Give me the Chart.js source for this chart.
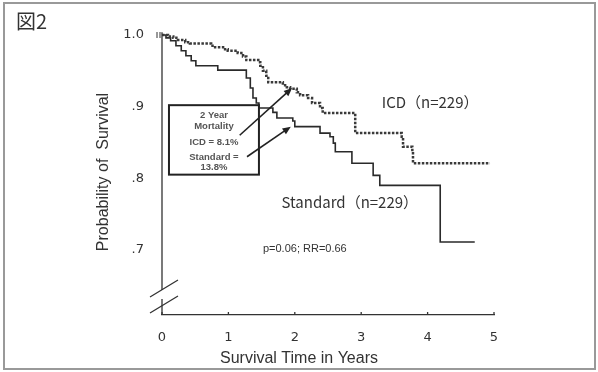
<!DOCTYPE html>
<html>
<head>
<meta charset="utf-8">
<script src="https://cdn.jsdelivr.net/npm/chart.js@4/dist/chart.umd.min.js"></script>
<style>
  html, body { margin: 0; padding: 0; background: #fff; }
  #wrap { width: 598px; height: 372px; position: relative; }
</style>
</head>
<body>
<div id="wrap"><canvas id="km"></canvas></div>
<script>
// Kaplan-Meier steps (time in years, survival probability)
const stdTimes = [0, 0.06, 0.13, 0.21, 0.29, 0.36, 0.44, 0.51, 0.84, 1.27, 1.33, 1.37, 1.42, 1.46, 1.67, 1.73, 1.97, 2.00, 2.38, 2.53, 2.58, 2.61, 2.86, 3.18, 3.28, 4.19, 4.71];
const stdSurv  = [1.0, 0.996, 0.992, 0.985, 0.978, 0.971, 0.964, 0.957, 0.951, 0.940, 0.926, 0.912, 0.905, 0.898, 0.892, 0.884, 0.880, 0.872, 0.863, 0.858, 0.849, 0.837, 0.821, 0.804, 0.790, 0.711, 0.711];
const icdTimes = [0, 0.09, 0.17, 0.24, 0.35, 0.42, 0.74, 0.80, 0.95, 0.99, 1.14, 1.22, 1.27, 1.45, 1.48, 1.52, 1.57, 1.60, 1.82, 1.88, 1.93, 2.03, 2.08, 2.20, 2.26, 2.38, 2.42, 2.91, 3.61, 3.63, 3.77, 3.78, 4.94];
const icdSurv  = [1.0, 0.998, 0.996, 0.993, 0.990, 0.988, 0.985, 0.983, 0.980, 0.978, 0.975, 0.970, 0.965, 0.962, 0.957, 0.950, 0.943, 0.934, 0.930, 0.927, 0.925, 0.920, 0.916, 0.912, 0.905, 0.898, 0.891, 0.863, 0.858, 0.844, 0.837, 0.821, 0.821];

const xTicks = [0, 1, 2, 3, 4, 5];
const yTicks = [0.7, 0.8, 0.9, 1.0];
const yTickLabels = ['.7', '.8', '.9', '1.0'];

const figLabel = '図2';
const xTitle = 'Survival Time in Years';
const yTitle = 'Probability of  Survival';
const icdLabel = 'ICD（n=229）';
const stdLabel = 'Standard（n=229）';
const statText = 'p=0.06; RR=0.66';
const boxLines = ['2 Year', 'Mortality', 'ICD = 8.1%', 'Standard =', '13.8%'];

const pts = (ts, vs) => ts.map((t, i) => ({ x: t, y: vs[i] }));
const INK = '#333';

function arrow(ctx, x1, y1, x2, y2) {
    const a = Math.atan2(y2 - y1, x2 - x1), h = 9;
    ctx.beginPath(); ctx.moveTo(x1, y1); ctx.lineTo(x2 - Math.cos(a)*4, y2 - Math.sin(a)*4); ctx.stroke();
    ctx.beginPath();
    ctx.moveTo(x2, y2);
    ctx.lineTo(x2 - h*Math.cos(a - 0.4), y2 - h*Math.sin(a - 0.4));
    ctx.lineTo(x2 - h*Math.cos(a + 0.4), y2 - h*Math.sin(a + 0.4));
    ctx.closePath(); ctx.fill();
}

const decor = {
    id: 'decor',
    beforeDraw(chart) {
        const c = chart.ctx;
        c.save(); c.fillStyle = '#fff'; c.fillRect(0, 0, chart.width, chart.height);
        c.strokeStyle = '#999'; c.lineWidth = 2; c.strokeRect(4, 3, 591, 366);
        c.restore();
    },
    afterDraw(chart) {
        const c = chart.ctx, xs = chart.scales.x, ys = chart.scales.y;
        const X = v => xs.getPixelForValue(v), Y = v => ys.getPixelForValue(v);
        const ax = X(0), bot = Y(ys.min);
        c.save();
        c.strokeStyle = INK; c.fillStyle = INK; c.lineWidth = 1.3;
        // y axis with break
        c.beginPath(); c.moveTo(ax, Y(1.004)); c.lineTo(ax, bot - 25); c.moveTo(ax, bot - 16); c.lineTo(ax, bot); c.stroke();
        c.beginPath();
        c.moveTo(ax - 12, bot - 18); c.lineTo(ax + 16, bot - 35);
        c.moveTo(ax - 12, bot - 2); c.lineTo(ax + 16, bot - 19);
        c.stroke();
        // inward x ticks
        xTicks.forEach(t => { c.beginPath(); c.moveTo(X(t), bot); c.lineTo(X(t), bot - 3); c.stroke(); });
        // censor marks at the start
        c.lineWidth = 1;
        [157, 160].forEach(px => { c.beginPath(); c.moveTo(px, Y(1.0) - 3); c.lineTo(px, Y(1.0) + 3); c.stroke(); });

        // figure label and axis titles
        c.fillStyle = '#333';
        c.font = '20px "Noto Sans CJK JP", sans-serif'; c.textBaseline = 'middle'; c.textAlign = 'left';
        c.fillText(figLabel, 16, 21);
        c.font = '16px "Liberation Sans", Arial, sans-serif'; c.textAlign = 'center';
        c.fillText(xTitle, 299, 359);
        c.save(); c.translate(104, 172); c.rotate(-Math.PI / 2); c.fillText(yTitle, 0, 0); c.restore();

        // curve labels
        c.font = '15px "Noto Sans CJK JP", sans-serif'; c.textAlign = 'left';
        c.fillText(icdLabel, X(3.31), Y(0.906));
        c.fillText(stdLabel, X(1.80), Y(0.766));
        c.font = '11px "Liberation Sans", Arial, sans-serif';
        c.fillText(statText, X(1.52), Y(0.701));

        // mortality box
        const bx1 = X(0.105), bx2 = X(1.46), by1 = Y(0.902), by2 = Y(0.805);
        c.fillStyle = '#fff'; c.fillRect(bx1, by1, bx2 - bx1, by2 - by1);
        c.strokeStyle = '#222'; c.lineWidth = 2; c.strokeRect(bx1, by1, bx2 - bx1, by2 - by1);
        c.fillStyle = '#555'; c.font = 'bold 9.5px "Liberation Sans", Arial, sans-serif'; c.textAlign = 'center';
        const cx = (bx1 + bx2) / 2;
        [115, 126, 142, 157, 167].forEach((yy, i) => c.fillText(boxLines[i], cx, yy));

        // arrows to the 2-year points
        c.strokeStyle = '#222'; c.fillStyle = '#222'; c.lineWidth = 1.6;
        arrow(c, X(1.17), Y(0.860), X(1.96), Y(0.926));
        arrow(c, X(1.28), Y(0.830), X(1.94), Y(0.872));
        c.restore();
    }
};

new Chart(document.getElementById('km'), {
    type: 'line',
    data: {
        datasets: [
            { label: 'ICD', data: pts(icdTimes, icdSurv), stepped: 'before', borderColor: '#3a3a3a', borderWidth: 2.5, borderDash: [2.5, 1.5], pointRadius: 0, fill: false, clip: false },
            { label: 'Standard', data: pts(stdTimes, stdSurv), stepped: 'before', borderColor: '#2a2a2a', borderWidth: 1.6, pointRadius: 0, fill: false, clip: false }
        ]
    },
    options: {
        responsive: true, maintainAspectRatio: false, animation: false,
        layout: { padding: { top: 35, right: 104, bottom: 0, left: 0 } },
        plugins: { legend: { display: false }, tooltip: { enabled: false } },
        scales: {
            x: {
                type: 'linear', min: 0, max: 5,
                afterFit: s => { s.height = 57; },
                afterBuildTicks: s => { s.ticks = xTicks.map(v => ({ value: v })); },
                grid: { display: false, drawTicks: false },
                border: { display: true, color: INK, width: 1.3 },
                ticks: { color: '#333', padding: 15, font: { family: '"DejaVu Sans", sans-serif', size: 13 } }
            },
            y: {
                type: 'linear', min: 0.609, max: 1.0,
                afterFit: s => { s.width = 162; },
                afterBuildTicks: s => { s.ticks = yTicks.map(v => ({ value: v })); },
                grid: { display: false, drawTicks: false },
                border: { display: false },
                ticks: { color: '#333', padding: 18, font: { family: '"DejaVu Sans", sans-serif', size: 13 },
                         callback: v => yTickLabels[yTicks.findIndex(t => Math.abs(t - v) < 1e-6)] }
            }
        }
    },
    plugins: [decor]
});
</script>
</body>
</html>
